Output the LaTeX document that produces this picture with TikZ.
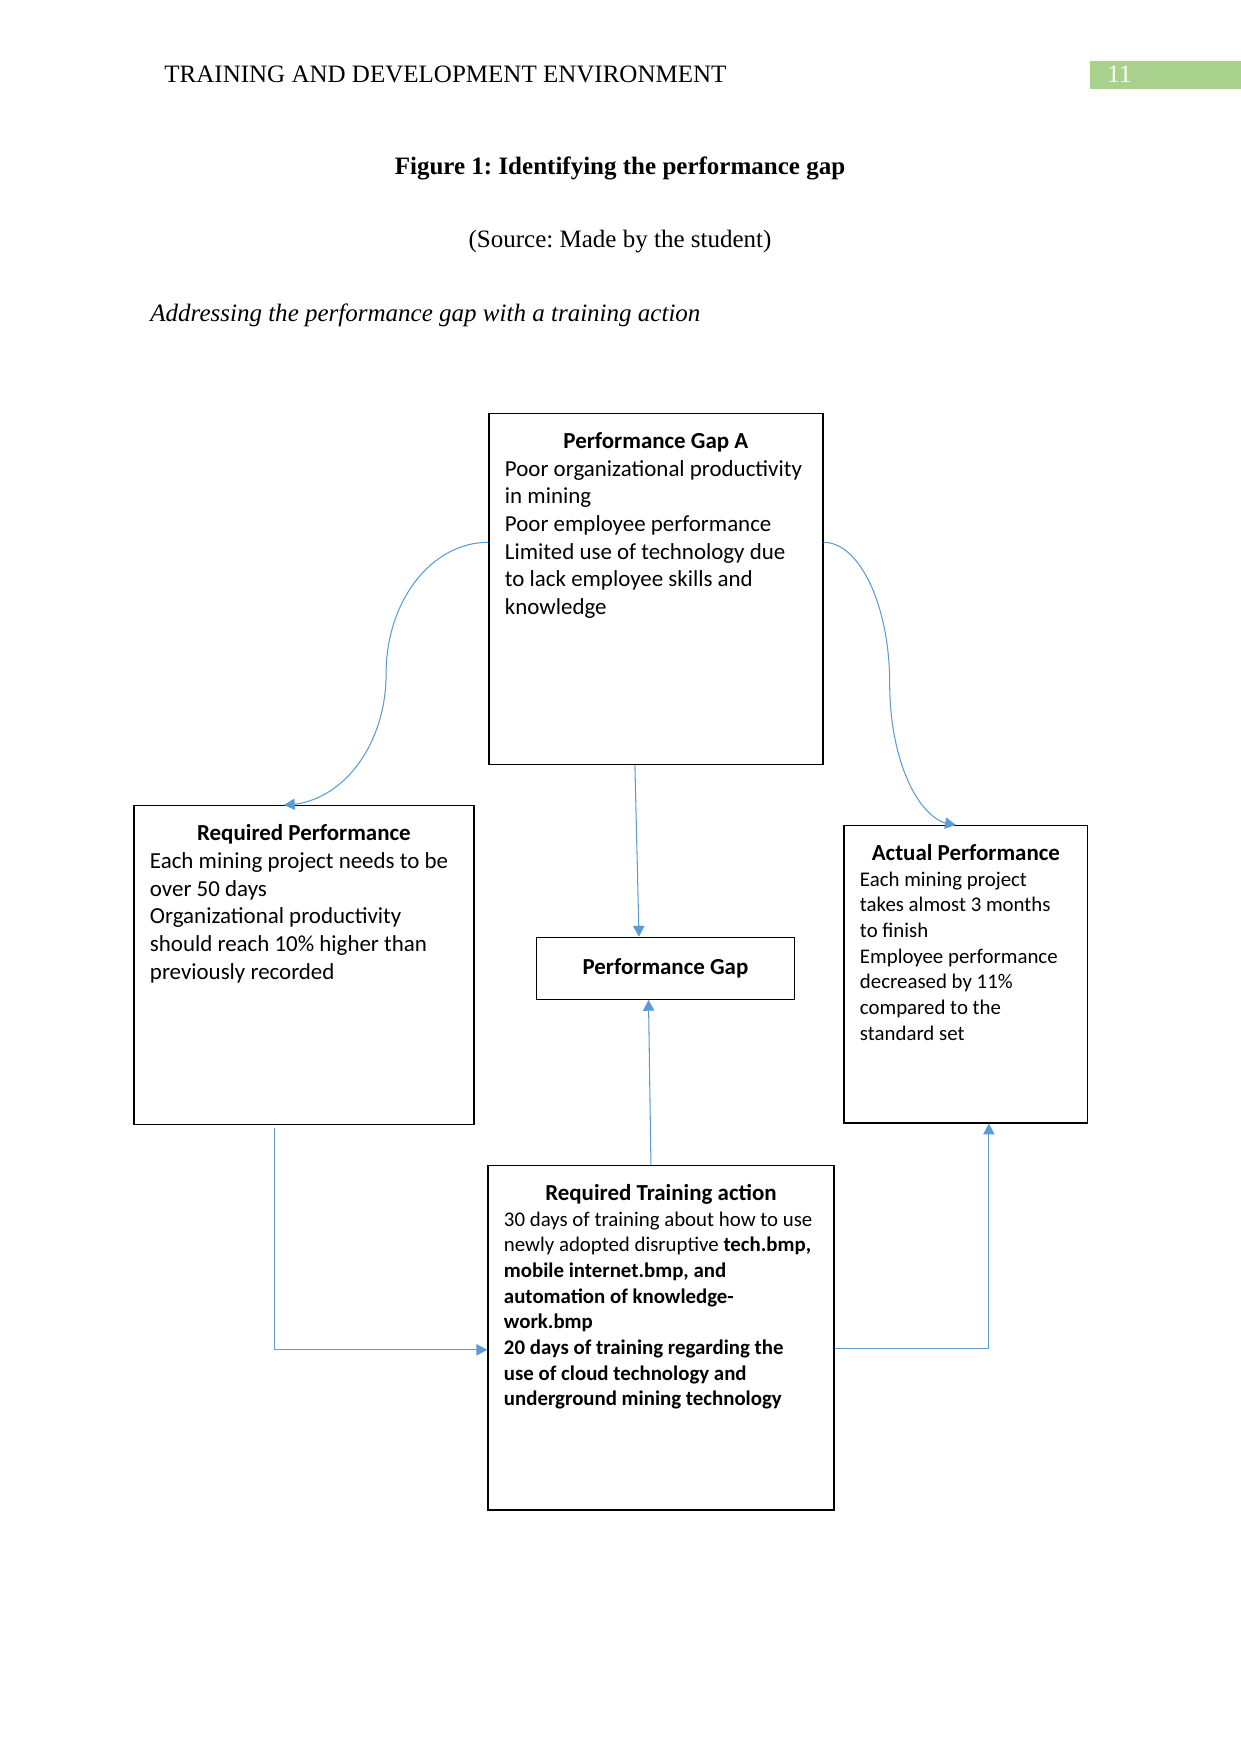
\documentclass[tikz,border=0pt]{standalone}
\usepackage{fontspec}
\setmainfont{Liberation Serif}
\newfontfamily\calibri{Carlito}
\usetikzlibrary{arrows.meta, bending, calc}
\definecolor{garisbiru}{RGB}{91,155,213}
\definecolor{hijaumuda}{RGB}{169,209,142}
\newcommand\boxtitle[1]{\makebox[\linewidth]{\bfseries\fontsize{11}{13.3}\selectfont #1}}
\frenchspacing

\begin{document}
\begin{tikzpicture}[x=0.4797pt, y=-0.4797pt,
        judul/.style={inner sep=0pt, font=\fontsize{12}{14}\selectfont},
        infobox/.style={draw, line width=0.6pt, anchor=north west, align=flush left,
                        inner xsep=7.7pt, inner ysep=0pt, text height=16.8pt,
                        font=\calibri\fontsize{11}{13.3}\selectfont},
        infosmall/.style={infobox, font=\calibri\fontsize{10}{12.3}\selectfont},
        gapbox/.style={draw, line width=0.6pt, minimum width=123.6pt, minimum height=29.7pt,
                       font=\calibri\bfseries\fontsize{11}{13.3}\selectfont},
        link/.style={line width=0.5pt, garisbiru, -{Triangle[length=5.2pt, width=5.4pt]}}
    ]
        \useasboundingbox (0,0) rectangle (1241,1754);

        \node[judul, anchor=base west] (header) at (164,83) {TRAINING AND DEVELOPMENT ENVIRONMENT};
        \fill[hijaumuda] (1090,61) rectangle (1241,89);
        \node[judul, anchor=base west, text=white] (halaman) at (1107,83) {11};
        \node[judul, anchor=base, font=\bfseries\fontsize{12}{14}\selectfont] (figjudul) at (620,174)
            {Figure 1: Identifying the performance gap};
        \node[judul, anchor=base] (sumber) at (620,247) {(Source: Made by the student)};
        \node[judul, anchor=base west, font=\itshape\fontsize{12}{14}\selectfont] (subjudul) at (150,321)
            {Addressing the performance gap with a training action};

        \node[infobox, text width=144.8pt, text depth=151.7pt] (gapA) at (488.3,412.7)
            {\boxtitle{Performance Gap A}\\
             Poor organizational productivity\\
             in mining\\
             Poor employee performance\\
             Limited use of technology due\\
             to lack employee skills and\\
             knowledge};
        \node[infobox, text width=147.7pt, text depth=136.2pt] (reqP) at (133.3,805)
            {\boxtitle{Required Performance}\\
             Each mining project needs to be\\
             over 50 days\\
             Organizational productivity\\
             should reach 10\% higher than\\
             previously recorded};
        \node[infosmall, text width=101.6pt, text depth=125.8pt] (actP) at (843.3,825)
            {\boxtitle{Actual Performance}\\
             Each mining project\\
             takes almost 3 months\\
             to finish\\
             Employee performance\\
             decreased by 11\%\\
             compared to the\\
             standard set};
        \node[gapbox] (pgap) at (665.5,968.3) {Performance Gap};
        \node[infosmall, text width=150.6pt, text depth=148.4pt] (train) at (487.3,1165)
            {\boxtitle{Required Training action}\\
             30 days of training about how to use\\
             newly adopted disruptive \textbf{tech.bmp,}\\
             \textbf{mobile internet.bmp, and}\\
             \textbf{automation of knowledge-}\\
             \textbf{work.bmp}\\
             \textbf{20 days of training regarding the}\\
             \textbf{use of cloud technology and}\\
             \textbf{underground mining technology}};

        \coordinate (kiriA) at ($(gapA.north west)+(0,129.6)$);
        \coordinate (kiriB) at ($(reqP.north)+(-20,0)$);
        \coordinate (kananA) at ($(gapA.north east)+(0,129.6)$);
        \coordinate (kananB) at ($(actP.north)+(-10,0)$);
        \draw[link] (kiriA) .. controls +(-56.6,0) and +(0,-73) .. ($(kiriA)!0.5!(kiriB)$)
            .. controls +(0,73) and +(56.6,0) .. (kiriB);
        \draw[link] (kananA) .. controls +(36.2,0) and +(0,-78) .. ($(kananA)!0.5!(kananB)$)
            .. controls +(0,78) and +(-36.2,0) .. (kananB);
        \draw[link] ($(gapA.south)+(-21,0)$) -- ($(pgap.north)+(-26.5,0)$);
        \draw[link] ($(train.north)+(-10,0)$) -- ($(pgap.south)+(-17,0)$);
        \draw[link] ($(reqP.south)+(-29,3)$) |- ($(train.west)+(0,12)$);
        \draw[link] ($(train.east)+(0,11)$) -| ($(actP.south)+(23,0)$);
    \end{tikzpicture}
\end{document}
